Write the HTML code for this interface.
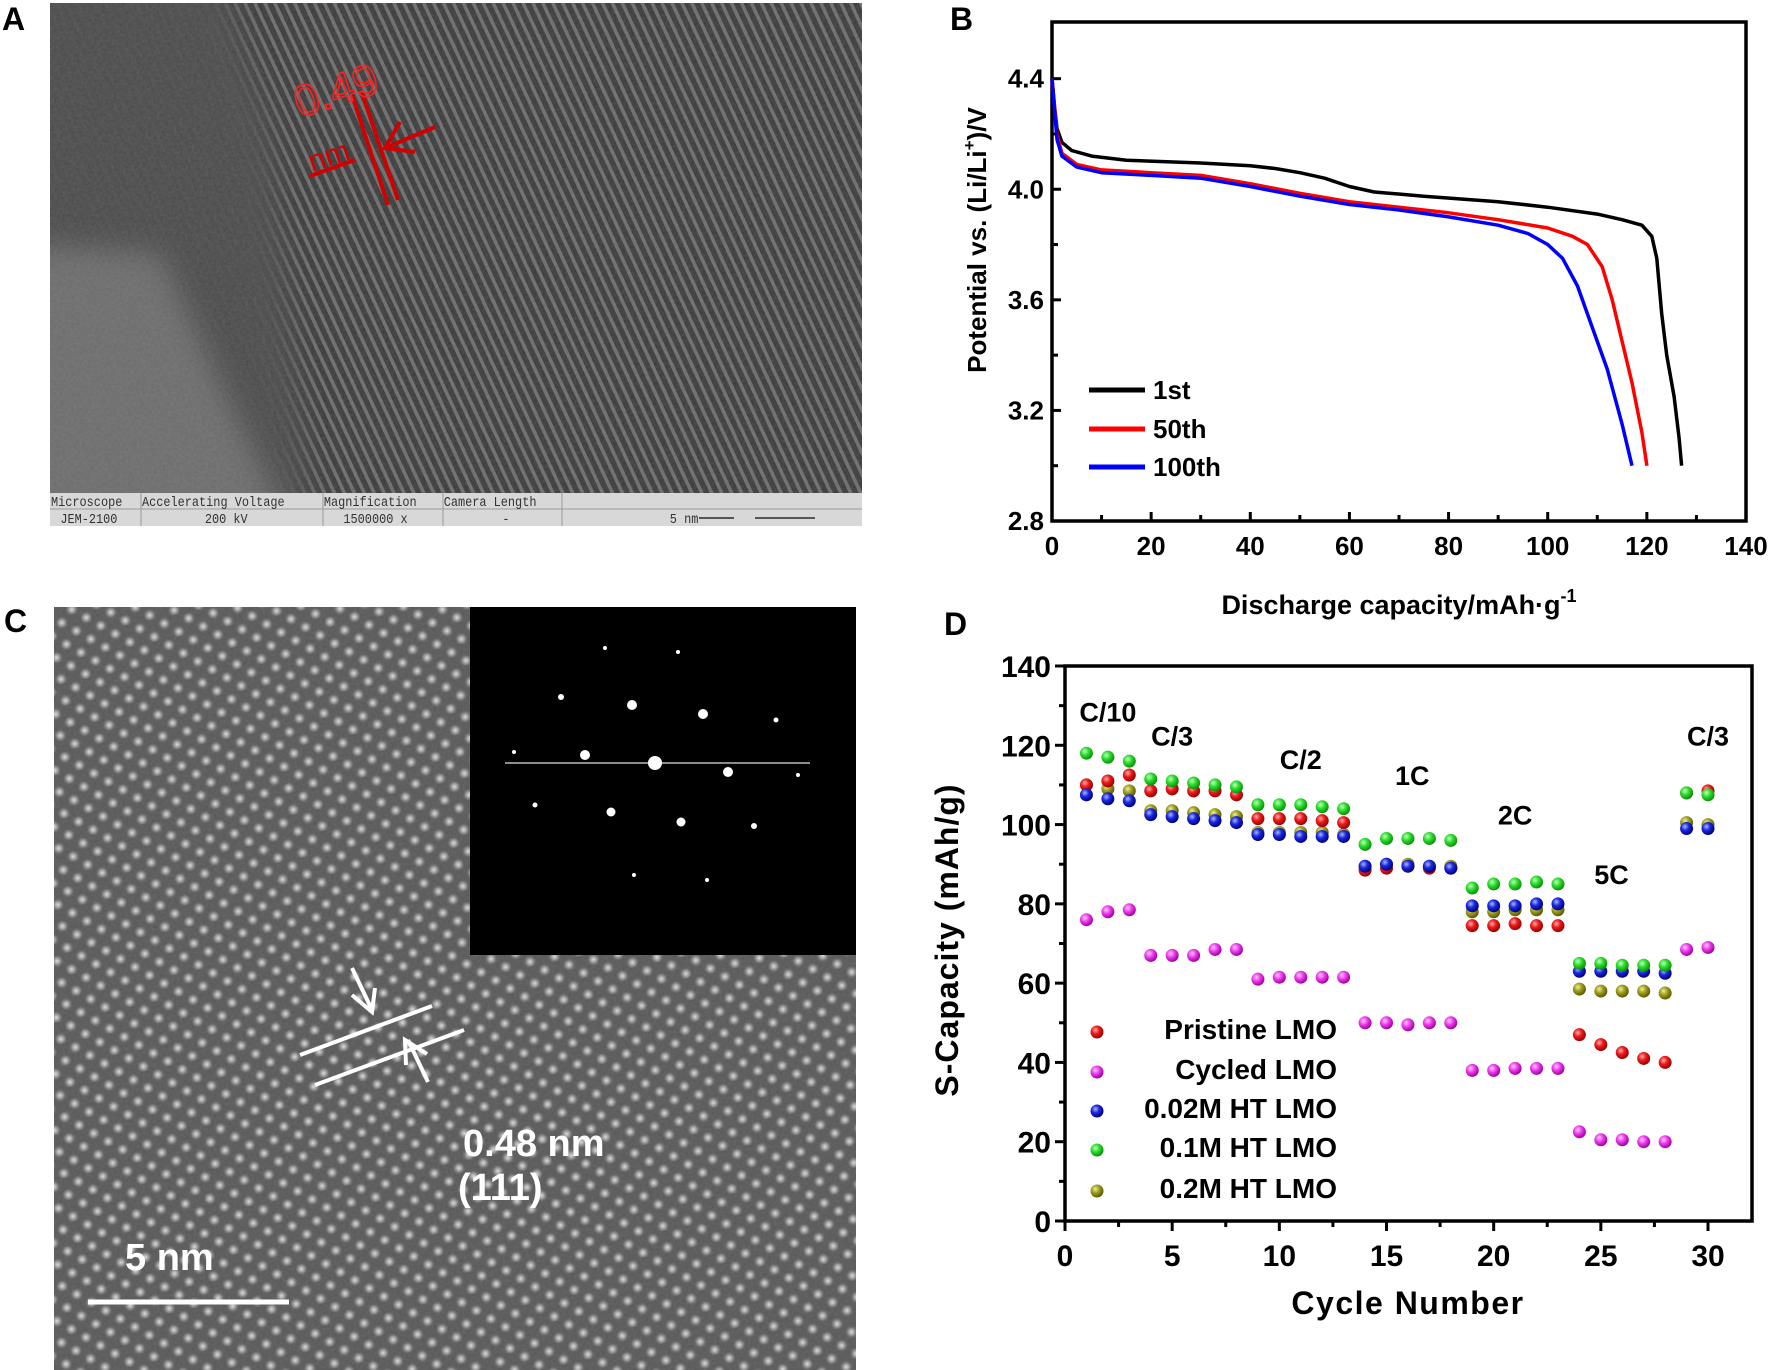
<!DOCTYPE html>
<html><head><meta charset="utf-8"><style>
html,body{margin:0;padding:0;background:#fff;}
svg{display:block;font-family:"Liberation Sans",Arial,sans-serif;}
</style></head><body>
<svg id="fig" width="1772" height="1370" viewBox="0 0 1772 1370" xmlns="http://www.w3.org/2000/svg">
<defs>
  <pattern id="stripes" width="9" height="40" patternUnits="userSpaceOnUse" patternTransform="rotate(-25)">
    <rect width="9" height="40" fill="#3a3a3a"/>
    <rect x="3" width="3.5" height="40" fill="#6c6c6c"/>
  </pattern>
  <filter id="grain" x="0" y="0" width="100%" height="100%">
    <feTurbulence type="fractalNoise" baseFrequency="0.35" numOctaves="2" seed="3"/>
    <feColorMatrix type="matrix" values="0 0 0 0 0.5  0 0 0 0 0.5  0 0 0 0 0.5  0 0 0 0.5 0"/>
  </filter>
  <filter id="blur6"><feGaussianBlur stdDeviation="14"/></filter>
  <radialGradient id="dotg"><stop offset="0" stop-color="#dedede"/><stop offset="0.5" stop-color="#8e8e8e"/><stop offset="1" stop-color="#585858" stop-opacity="0"/></radialGradient>
  <pattern id="lattice" width="25" height="22" patternUnits="userSpaceOnUse" patternTransform="rotate(-12)">
    <rect width="25" height="22" fill="#585858"/>
    <circle cx="6" cy="6" r="7" fill="url(#dotg)"/>
    <circle cx="18.5" cy="17" r="7" fill="url(#dotg)"/>
  </pattern>
  <radialGradient id="sph-red" cx="0.38" cy="0.35" r="0.65"><stop offset="0" stop-color="#ffb0b0"/><stop offset="0.45" stop-color="#ee1c1c"/><stop offset="1" stop-color="#9a0000"/></radialGradient>
  <radialGradient id="sph-mag" cx="0.38" cy="0.35" r="0.65"><stop offset="0" stop-color="#ffd0ff"/><stop offset="0.45" stop-color="#f040f0"/><stop offset="1" stop-color="#a000a0"/></radialGradient>
  <radialGradient id="sph-blue" cx="0.38" cy="0.35" r="0.65"><stop offset="0" stop-color="#b0b8ff"/><stop offset="0.45" stop-color="#1a2ae0"/><stop offset="1" stop-color="#000080"/></radialGradient>
  <radialGradient id="sph-green" cx="0.38" cy="0.35" r="0.65"><stop offset="0" stop-color="#c8ffc8"/><stop offset="0.45" stop-color="#2ee02e"/><stop offset="1" stop-color="#0a900a"/></radialGradient>
  <radialGradient id="sph-olive" cx="0.38" cy="0.35" r="0.65"><stop offset="0" stop-color="#f0f0a0"/><stop offset="0.45" stop-color="#a0a020"/><stop offset="1" stop-color="#5a5a00"/></radialGradient>
</defs>

<!-- Panel A -->
<text x="2" y="30" font-size="32" font-weight="bold">A</text>
<g>
  <rect x="50" y="3" width="812" height="490" fill="url(#stripes)"/>
  <svg x="50" y="3" width="812" height="490" overflow="hidden">
    <polygon points="-40,-40 170,-40 220,120 260,520 -40,520" fill="#4c4c4c" opacity="0.95" filter="url(#blur6)"/>
    <polygon points="-40,240 110,250 190,420 240,520 -40,520" fill="#727272" opacity="0.85" filter="url(#blur6)"/>
  </svg>
  <rect x="50" y="3" width="812" height="490" filter="url(#grain)" opacity="0.35"/>
  <g stroke="#d00000" fill="none" stroke-width="4">
    <line x1="352" y1="95" x2="388" y2="205"/>
    <line x1="362" y1="93" x2="398" y2="200"/>
    <line x1="435" y1="127" x2="385" y2="148"/>
    <polyline points="400,122 385,148 415,152"/>
    <line x1="310" y1="176" x2="355" y2="160"/>
  </g>
  <text x="0" y="0" transform="translate(300,118) rotate(-18)" font-size="44" fill="none" stroke="#ff2020" stroke-width="1.6">0.49</text>
  <text x="0" y="0" transform="translate(312,172) rotate(-18)" font-size="30" fill="#d00000">nm</text>
  <g>
    <rect x="50" y="493" width="812" height="33" fill="#d8d8d8"/>
    <line x1="50" y1="509" x2="862" y2="509" stroke="#9a9a9a"/>
    <g stroke="#9a9a9a"><line x1="141" y1="493" x2="141" y2="526"/><line x1="323" y1="493" x2="323" y2="526"/><line x1="443" y1="493" x2="443" y2="526"/><line x1="562" y1="493" x2="562" y2="526"/></g>
    <g font-family="Liberation Mono,monospace" font-size="14" fill="#333" transform="scale(0.85,1)">
      <text x="60" y="506">Microscope</text><text x="167" y="506">Accelerating Voltage</text><text x="381" y="506">Magnification</text><text x="522" y="506">Camera Length</text>
      <text x="71" y="523">JEM-2100</text><text x="241" y="523">200 kV</text><text x="404" y="523">1500000 x</text><text x="591" y="523">-</text><text x="788" y="523">5 nm</text>
    </g>
    <line x1="699" y1="518" x2="734" y2="518" stroke="#555" stroke-width="2"/>
    <line x1="755" y1="518" x2="815" y2="518" stroke="#555" stroke-width="2"/>
  </g>
</g>

<!-- Panel C -->
<text x="4" y="632" font-size="32" font-weight="bold">C</text>
<g>
  <rect x="54" y="607" width="802" height="763" fill="url(#lattice)"/>
  <rect x="54" y="607" width="802" height="763" filter="url(#grain)" opacity="0.3"/>
  <g>
    <rect x="470" y="607" width="386" height="348" fill="#000"/>
    <line x1="505" y1="763" x2="810" y2="763" stroke="#bbb" stroke-width="1.5"/>
    <g fill="#fff">
      <circle cx="655" cy="763" r="7"/><circle cx="585" cy="755" r="5"/><circle cx="728" cy="772" r="5"/>
      <circle cx="632" cy="705" r="5"/><circle cx="703" cy="714" r="5"/><circle cx="611" cy="812" r="4.5"/>
      <circle cx="681" cy="822" r="4.5"/><circle cx="561" cy="697" r="3"/><circle cx="754" cy="826" r="3"/>
      <circle cx="776" cy="720" r="2.5"/><circle cx="535" cy="805" r="2.5"/><circle cx="605" cy="648" r="2"/>
      <circle cx="678" cy="652" r="2"/><circle cx="634" cy="875" r="2"/><circle cx="707" cy="880" r="2"/>
      <circle cx="514" cy="752" r="2"/><circle cx="798" cy="775" r="2"/>
    </g>
  </g>
  <g stroke="#fff" stroke-width="4" fill="none">
    <line x1="300" y1="1055" x2="432" y2="1006"/>
    <line x1="315" y1="1085" x2="464" y2="1030"/>
    <line x1="352" y1="968" x2="372" y2="1010"/>
    <polyline points="352,995 372,1012 375,988"/>
    <line x1="428" y1="1082" x2="408" y2="1040"/>
    <polyline points="406,1065 405,1040 427,1054"/>
  </g>
  <text x="463" y="1156" font-size="38" font-weight="bold" fill="#fff">0.48 nm</text>
  <text x="458" y="1200" font-size="38" font-weight="bold" fill="#fff">(111)</text>
  <line x1="88" y1="1302" x2="289" y2="1302" stroke="#fff" stroke-width="5"/>
  <text x="125" y="1270" font-size="38" font-weight="bold" fill="#fff">5 nm</text>
</g>

<text x="950" y="30" font-size="32" font-weight="bold">B</text>
<text x="944" y="635" font-size="32" font-weight="bold">D</text>

<g id="chartB"></g>
<g id="chartD"></g>
</svg>

<script>
const NS = "http://www.w3.org/2000/svg";
// ---- Chart B data ----
const capTicks = [0, 20, 40, 60, 80, 100, 120, 140];
const potTicks = [2.8, 3.2, 3.6, 4.0, 4.4];
const potTickLabels = ["2.8", "3.2", "3.6", "4.0", "4.4"];
const cap1st = [0,0.5,1,2,4,8,15,30,40,45,50,55,60,65,75,90,100,110,115,119,121,122,123,124,125.5,126.5,127];
const pot1st = [4.4,4.3,4.22,4.17,4.14,4.12,4.105,4.095,4.085,4.075,4.06,4.04,4.01,3.99,3.975,3.955,3.935,3.91,3.89,3.87,3.83,3.75,3.55,3.4,3.25,3.1,3.0];
const cap50th = [0,1,2,5,10,20,30,40,50,60,70,80,90,100,105,108,111,113,115,117,119,120];
const pot50th = [4.4,4.2,4.13,4.09,4.07,4.06,4.05,4.02,3.985,3.955,3.935,3.915,3.89,3.86,3.83,3.8,3.72,3.6,3.45,3.3,3.12,3.0];
const cap100th = [0,1,2,5,10,20,30,40,50,60,70,80,90,96,100,103,106,109,112,115,117];
const pot100th = [4.4,4.18,4.12,4.08,4.06,4.05,4.04,4.01,3.975,3.945,3.925,3.9,3.87,3.84,3.8,3.75,3.65,3.5,3.35,3.15,3.0];
const seriesBNames = ["1st", "50th", "100th"];
const seriesBColors = ["#000000", "#ff0000", "#0000ff"];

// ---- Chart D data ----
const cycles = [1,2,3,4,5,6,7,8,9,10,11,12,13,14,15,16,17,18,19,20,21,22,23,24,25,26,27,28,29,30];
const pristine = [110,111,112.5,108.5,109,108.5,108.5,107.5,101.5,101.5,101.5,101,100.5,88.5,89,89.5,89,89,74.5,74.5,75,74.5,74.5,47,44.5,42.5,41,40,108,108.5];
const cycled = [76,78,78.5,67,67,67,68.5,68.5,61,61.5,61.5,61.5,61.5,50,50,49.5,50,50,38,38,38.5,38.5,38.5,22.5,20.5,20.5,20,20,68.5,69];
const ht002 = [107.5,106.5,106,102.5,102,101.5,101,100.5,97.5,97.5,97,97,97,89.5,90,89.5,89.5,89,79.5,79.5,79.5,80,80,63,63,63,63,62.5,99,99];
const ht01 = [118,117,116,111.5,111,110.5,110,109.5,105,105,105,104.5,104,95,96.5,96.5,96.5,96,84,85,85,85.5,85,65,65,64.5,64.5,64.5,108,107.5];
const ht02 = [110,109,108.5,103.5,103.5,103,102.5,102,98,98,98,98,97.5,89.5,90,90,89.5,89.5,78,78,78.5,78.5,78.5,58.5,58,58,58,57.5,100.5,100];
const cycleTicks = [0,5,10,15,20,25,30];
const capDTicks = [0,20,40,60,80,100,120,140];
const rateLabels = ["C/10","C/3","C/2","1C","2C","5C","C/3"];
const rateLabelCycle = [2,5,11,16.2,21,25.5,30];
const rateLabelCap = [126,120,114,110,100,85,120];
const legendDNames = ["Pristine LMO","Cycled LMO","0.02M HT LMO","0.1M HT LMO","0.2M HT LMO"];

function mk(tag, attrs, parent) {
  const e = document.createElementNS(NS, tag);
  for (const k in attrs) e.setAttribute(k, attrs[k]);
  if (parent) parent.appendChild(e);
  return e;
}

// ===== Chart B =====
(function(){
  const g = document.getElementById('chartB');
  const L=1052, R=1746, T=22, B=521;
  const xB = v => L + v/140*(R-L);
  const yB = v => B - (v-2.8)/(4.605-2.8)*(B-T);
  const frame = mk('rect',{x:L,y:T,width:R-L,height:B-T,fill:'none',stroke:'#000','stroke-width':3.5},g);
  
  
  for (let v=0; v<=140; v+=10) {
    const len = (v%20===0)?9:6;
    const t = mk('line',{x1:xB(v),x2:xB(v),y1:B,y2:B-len,stroke:'#000','stroke-width':3},g);
    
    
  }
  capTicks.forEach(v=>{
    const t = mk('text',{x:xB(v),y:555,'font-size':26,'font-weight':'bold','text-anchor':'middle'},g);
    t.textContent = v;
    
    
  });
  for (let i=0;i<=8;i++){
    const v = 2.8+i*0.2;
    const t = mk('line',{x1:L,x2:L+(i%2===0?9:6),y1:yB(v),y2:yB(v),stroke:'#000','stroke-width':3},g);
    
    
  }
  potTicks.forEach((v,i)=>{
    const t = mk('text',{x:L-8,y:yB(v)+9,'font-size':26,'font-weight':'bold','text-anchor':'end'},g);
    t.textContent = potTickLabels[i];
    
    
  });
  const xt = mk('text',{x:1399,y:614,'font-size':27,'font-weight':'bold','text-anchor':'middle'},g);
  xt.innerHTML = 'Discharge capacity/mAh·g<tspan dy="-12" font-size="18">-1</tspan>';
  
  
  const yt = mk('text',{x:0,y:0,transform:'translate(986,240) rotate(-90)','font-size':26,'font-weight':'bold','text-anchor':'middle'},g);
  yt.innerHTML = 'Potential vs. (Li/Li<tspan dy="-11" font-size="17">+</tspan><tspan dy="11">)/V</tspan>';
  
  
  const caps=[cap1st,cap50th,cap100th], pots=[pot1st,pot50th,pot100th];
  caps.forEach((cs,si)=>{
    const d = cs.map((c,i)=>(i?'L':'M')+xB(c).toFixed(1)+','+yB(pots[si][i]).toFixed(1)).join(' ');
    const p = mk('path',{d:d,fill:'none',stroke:seriesBColors[si],'stroke-width':3.5,'stroke-linejoin':'round'},g);
    
    
  });
  const ly=[390,429,467];
  seriesBNames.forEach((n,i)=>{
    const l = mk('line',{x1:1089,x2:1145,y1:ly[i],y2:ly[i],stroke:seriesBColors[i],'stroke-width':5},g);
    
    
    const t = mk('text',{x:1153,y:ly[i]+9,'font-size':26,'font-weight':'bold'},g);
    t.textContent = n;
    
    
  });
})();

// ===== Chart D =====
(function(){
  const g = document.getElementById('chartD');
  const L=1065, R=1752, T=666, B=1221;
  const xD = c => L + c/30*(1708-L);
  const yD = v => B - v/140*(B-T);
  const frame = mk('rect',{x:L,y:T,width:R-L,height:B-T,fill:'none',stroke:'#000','stroke-width':3.5},g);
  
  
  for (let c=0;c<=30;c+=2.5){
    const t = mk('line',{x1:xD(c),x2:xD(c),y1:B,y2:B+(c%5===0?10:6),stroke:'#000','stroke-width':3},g);
    
    
  }
  cycleTicks.forEach(c=>{
    const t = mk('text',{x:xD(c),y:1266,'font-size':30,'font-weight':'bold','text-anchor':'middle'},g);
    t.textContent = c;
    
    
  });
  for (let v=0; v<=140; v+=10){
    const t = mk('line',{x1:L,x2:L-(v%20===0?10:6),y1:yD(v),y2:yD(v),stroke:'#000','stroke-width':3},g);
    
    
  }
  capDTicks.forEach(v=>{
    const t = mk('text',{x:L-14,y:yD(v)+11,'font-size':30,'font-weight':'bold','text-anchor':'end'},g);
    t.textContent = v;
    
    
  });
  const xt = mk('text',{x:1408,y:1314,'font-size':32,'font-weight':'bold','text-anchor':'middle','letter-spacing':'1.5'},g);
  xt.textContent = 'Cycle Number';
  
  
  const yt = mk('text',{x:0,y:0,transform:'translate(958,940) rotate(-90)','font-size':32,'font-weight':'bold','text-anchor':'middle','letter-spacing':'1'},g);
  yt.textContent = 'S-Capacity (mAh/g)';
  
  
  rateLabels.forEach((s,i)=>{
    const t = mk('text',{x:xD(rateLabelCycle[i]),y:yD(rateLabelCap[i]),'font-size':27,'font-weight':'bold','text-anchor':'middle'},g);
    t.textContent = s;
    
    
  });
  const series=[ht02,pristine,cycled,ht002,ht01];
  const fills=['url(#sph-olive)','url(#sph-red)','url(#sph-mag)','url(#sph-blue)','url(#sph-green)'];
  const names=['ht-0.2m','pristine','cycled','ht-0.02m','ht-0.1m'];
  series.forEach((vals,si)=>{
    vals.forEach((v,i)=>{
      const c = mk('circle',{cx:xD(cycles[i]),cy:yD(v),r:6.5,fill:fills[si]},g);
      
      
    });
  });
  const legFills=['url(#sph-red)','url(#sph-mag)','url(#sph-blue)','url(#sph-green)','url(#sph-olive)'];
  const legY=[1030,1070,1109,1148,1189];
  legendDNames.forEach((n,i)=>{
    const c = mk('circle',{cx:1097,cy:legY[i]+2,r:6.5,fill:legFills[i]},g);
    
    
    const t = mk('text',{x:1337,y:legY[i]+9,'font-size':28,'font-weight':'bold','text-anchor':'end'},g);
    t.textContent = n;
    
    
  });
})();
</script>
</body></html>
